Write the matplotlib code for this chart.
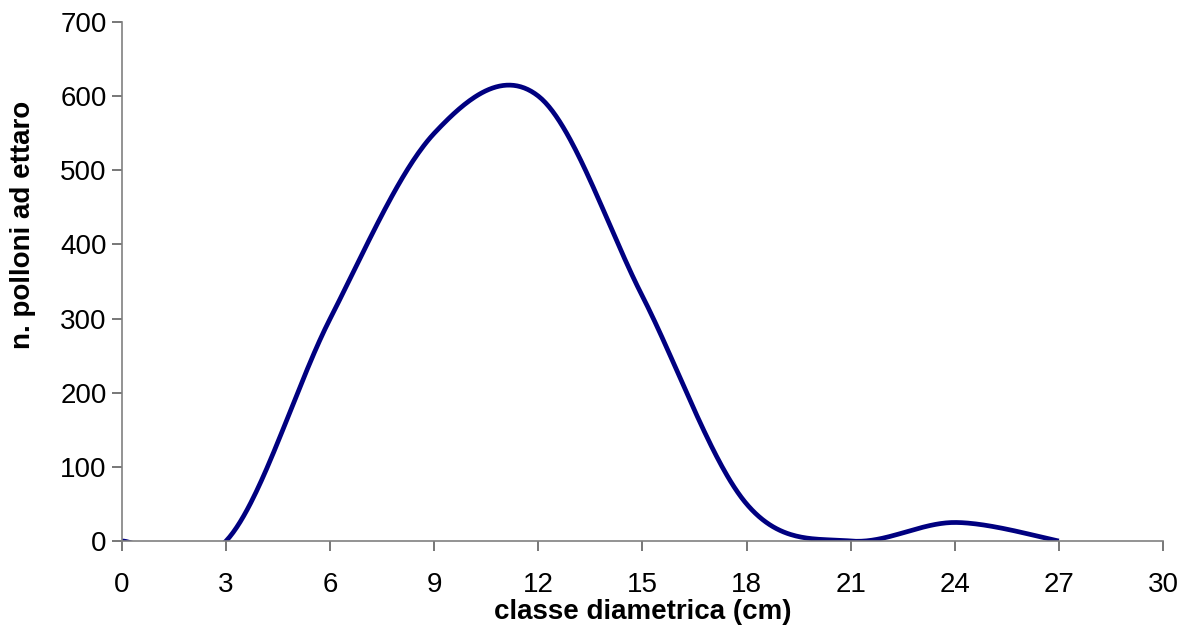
import numpy as np
import matplotlib.pyplot as plt

plt.rcParams['font.family'] = ['Liberation Sans', 'DejaVu Sans']

classi = [0, 3, 6, 9, 12, 15, 18, 21, 24, 27]
polloni = [0, 0, 300, 550, 600, 330, 50, 0, 25, 0]


def smooth_excel(xs, ys, n=60):
    # catmull-rom as bezier, like excel "smoothed line"
    p = np.column_stack([xs, ys]).astype(float)
    out = []
    for i in range(len(p) - 1):
        p0 = p[i - 1] if i > 0 else p[i]
        p1, p2 = p[i], p[i + 1]
        p3 = p[i + 2] if i + 2 < len(p) else p[i + 1]
        c1 = p1 + (p2 - p0) / 6
        c2 = p2 - (p3 - p1) / 6
        t = np.linspace(0, 1, n)[:, None]
        seg = (1 - t) ** 3 * p1 + 3 * (1 - t) ** 2 * t * c1 + 3 * (1 - t) * t ** 2 * c2 + t ** 3 * p2
        out.append(seg if i == 0 else seg[1:])
    out = np.vstack(out)
    return out[:, 0], out[:, 1]


sx, sy = smooth_excel(classi, polloni)

fig = plt.figure(figsize=(11.89, 6.41), dpi=100)
ax = fig.add_axes([0.1026, 0.156, 0.8755, 0.8097])
ax.plot(sx, sy, color='#000080', linewidth=3.4, solid_capstyle='butt')

ax.set_xlim(0, 30)
ax.set_ylim(0, 700)
ax.set_xticks(range(0, 31, 3))
ax.set_yticks(range(0, 701, 100))
for s in ['top', 'right']:
    ax.spines[s].set_visible(False)
for s in ['left', 'bottom']:
    ax.spines[s].set_color('#808080')
    ax.spines[s].set_linewidth(1.2)
ax.tick_params(direction='out', length=7, width=1.2, color='#606060', labelsize=20)
ax.tick_params(axis='x', pad=15)
ax.tick_params(axis='y', pad=4)

ax.set_xlabel('classe diametrica (cm)', fontsize=20, fontweight='bold', labelpad=1)
ax.set_ylabel('n. polloni ad ettaro', fontsize=20, fontweight='bold')
ax.yaxis.set_label_coords(-0.083, 0.61)

plt.savefig('out.png', dpi=100)
plt.close()
